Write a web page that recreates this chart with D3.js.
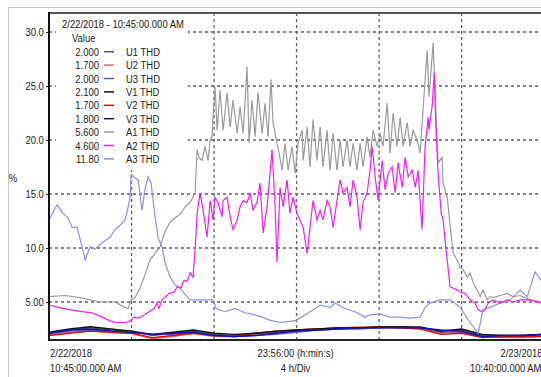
<!DOCTYPE html>
<html>
<head>
<meta charset="utf-8">
<script src="https://cdn.jsdelivr.net/npm/d3@7"></script>
<style>
  body { margin: 0; background: #fff; }
  svg { display: block; font-family: 'Liberation Sans', Arial, sans-serif; }
</style>
</head>
<body>
<div id="chart"></div>
<script>
// hours since 2/22/2018 10:45:00, value in %
const a1Thd = [
  [0, 5.5], [0.78, 5.6], [1.5, 5.4], [2.47, 5.0], [3.2, 5.0], [3.68, 4.5], [3.83, 4.4], [3.98, 5.2],
  [4.17, 5.4], [4.41, 6.3], [4.65, 7.5], [4.9, 8.9], [5.14, 9.5], [5.38, 10.1], [5.62, 11.5], [5.87, 12.4],
  [6.11, 12.8], [6.35, 13.1], [6.59, 13.8], [6.84, 14.2], [7.08, 15.1], [7.18, 19.1], [7.27, 18.4], [7.42, 18.1],
  [7.56, 19.4], [7.71, 18.1], [7.81, 20.0], [7.9, 20.3], [7.95, 22.1], [8.05, 24.9], [8.15, 20.9], [8.29, 24.6],
  [8.44, 20.9], [8.63, 24.4], [8.78, 21.2], [8.92, 23.7], [9.12, 20.6], [9.26, 23.1], [9.41, 20.6], [9.6, 26.8],
  [9.7, 19.7], [9.84, 23.7], [9.99, 20.3], [10.13, 24.4], [10.33, 20.6], [10.47, 23.4], [10.62, 20.3], [10.76, 25.6],
  [10.86, 21.6], [11.05, 19.7], [11.15, 18.8], [11.3, 17.2], [11.44, 19.7], [11.59, 17.2], [11.78, 19.4], [11.93, 16.9],
  [12.07, 19.7], [12.27, 20.9], [12.32, 18.1], [12.51, 21.2], [12.65, 17.5], [12.8, 21.9], [12.99, 18.1], [13.14, 21.2],
  [13.28, 17.5], [13.48, 20.9], [13.62, 17.2], [13.77, 20.6], [13.96, 17.2], [14.11, 20.0], [14.25, 17.5], [14.45, 20.0],
  [14.59, 17.5], [14.74, 19.7], [14.93, 17.2], [15.08, 19.7], [15.22, 17.5], [15.42, 20.3], [15.56, 18.4], [15.71, 20.9],
  [15.9, 19.4], [16.05, 20.6], [16.19, 19.4], [16.39, 23.4], [16.53, 18.8], [16.68, 22.5], [16.87, 19.4], [17.02, 22.1],
  [17.16, 19.4], [17.36, 21.6], [17.5, 19.4], [17.65, 20.9], [17.84, 20.0], [17.99, 18.8], [18.13, 22.8], [18.33, 28.3],
  [18.42, 24.0], [18.62, 29.0], [18.72, 24.0], [18.86, 17.9], [19.05, 18.4], [19.1, 16.0], [19.3, 14.7], [19.44, 12.1],
  [19.59, 9.5], [19.78, 8.9], [19.93, 8.2], [20.07, 8.0], [20.27, 7.3], [20.41, 7.7], [20.56, 6.8], [20.75, 6.1],
  [20.9, 5.5], [21.04, 6.1], [21.24, 5.2], [21.38, 5.5], [21.53, 5.4], [21.87, 5.6], [22.21, 5.8], [22.5, 5.5],
  [22.84, 5.6], [23.32, 5.2], [23.85, 5.0]
];

const a2Thd = [
  [0, 4.7], [0.48, 4.5], [0.97, 4.3], [1.6, 4.1], [2.08, 4.0], [2.57, 3.6], [2.91, 3.3], [3.25, 3.1],
  [3.73, 3.1], [3.98, 3.3], [4.12, 3.6], [4.36, 3.5], [4.61, 3.8], [4.85, 4.1], [5.09, 4.4], [5.24, 4.9],
  [5.33, 4.4], [5.48, 5.2], [5.67, 5.5], [5.82, 5.8], [6.06, 5.9], [6.21, 6.4], [6.4, 6.3], [6.55, 7.0],
  [6.69, 6.9], [6.84, 7.7], [6.98, 7.3], [7.08, 9.8], [7.18, 13.2], [7.32, 15.1], [7.47, 13.5], [7.66, 11.0],
  [7.81, 14.4], [7.95, 12.6], [8.05, 14.7], [8.19, 14.2], [8.39, 12.9], [8.44, 14.4], [8.63, 14.7], [8.78, 12.9],
  [8.92, 11.7], [9.12, 12.6], [9.26, 13.8], [9.41, 14.4], [9.6, 14.2], [9.75, 15.1], [9.89, 13.5], [10.08, 14.2],
  [10.23, 16.0], [10.38, 11.4], [10.57, 13.8], [10.81, 19.1], [10.96, 13.8], [11.05, 8.7], [11.2, 15.6], [11.35, 13.8],
  [11.54, 16.3], [11.68, 13.2], [11.83, 14.7], [12.02, 13.2], [12.17, 12.6], [12.32, 11.9], [12.51, 9.5], [12.65, 11.9],
  [12.8, 14.4], [12.99, 12.6], [13.14, 13.5], [13.28, 12.6], [13.48, 14.4], [13.62, 13.8], [13.77, 11.9], [13.96, 14.4],
  [14.11, 16.3], [14.25, 15.1], [14.45, 15.6], [14.59, 13.8], [14.74, 16.3], [14.93, 14.7], [15.08, 11.7], [15.22, 14.2],
  [15.42, 15.1], [15.56, 17.2], [15.66, 19.4], [15.81, 16.6], [15.95, 14.4], [16.15, 18.1], [16.29, 15.4], [16.44, 16.9],
  [16.63, 17.5], [16.78, 15.1], [16.92, 17.9], [17.12, 15.6], [17.26, 18.4], [17.41, 16.6], [17.6, 17.2], [17.75, 15.6],
  [17.89, 17.2], [18.08, 11.7], [18.23, 19.4], [18.38, 22.1], [18.42, 20.9], [18.57, 23.1], [18.67, 26.2], [18.76, 20.9],
  [18.86, 16.9], [19.01, 13.2], [19.1, 12.6], [19.2, 10.7], [19.3, 8.9], [19.44, 6.4], [19.59, 6.3], [19.78, 6.1],
  [19.93, 5.9], [20.17, 5.8], [20.41, 5.2], [20.65, 4.9], [20.8, 4.3], [20.99, 4.1], [21.14, 4.3], [21.29, 4.9],
  [21.53, 5.2], [21.87, 4.9], [22.21, 5.2], [22.5, 5.0], [22.84, 5.2], [23.32, 5.2], [23.85, 4.9]
];

const a3Thd = [
  [0, 12.6], [0.39, 14.0], [0.68, 13.2], [0.92, 12.8], [1.12, 11.9], [1.36, 11.9], [1.6, 10.1], [1.75, 8.9],
  [1.99, 10.1], [2.23, 9.9], [2.47, 10.3], [2.72, 10.7], [2.96, 11.0], [3.2, 11.7], [3.44, 12.1], [3.68, 12.6],
  [3.78, 13.3], [3.93, 14.7], [3.98, 16.8], [4.17, 16.5], [4.32, 16.3], [4.51, 13.5], [4.65, 15.4], [4.8, 16.6],
  [4.95, 16.0], [5.14, 12.9], [5.28, 11.0], [5.48, 10.1], [5.62, 8.7], [5.87, 7.3], [6.11, 6.6], [6.35, 6.3],
  [6.59, 5.7], [6.84, 5.2], [7.32, 5.2], [7.95, 5.2], [8.1, 4.4], [8.53, 4.1], [9.02, 4.4], [9.5, 4.0],
  [9.99, 3.8], [10.33, 3.6], [10.72, 3.3], [11.2, 3.1], [11.68, 3.2], [11.98, 3.3], [12.41, 3.8], [12.9, 4.4],
  [13.14, 4.7], [13.62, 4.5], [13.87, 4.9], [14.35, 4.4], [14.84, 4.1], [15.32, 3.6], [15.56, 3.8], [16.05, 3.9],
  [16.53, 3.6], [17.02, 3.6], [17.5, 3.5], [17.99, 3.6], [18.23, 4.5], [18.47, 4.9], [18.96, 5.2], [19.44, 5.2],
  [19.93, 4.5], [20.41, 3.1], [20.8, 2.1], [21.04, 4.3], [21.38, 4.5], [21.87, 4.9], [22.35, 5.2], [22.84, 6.1],
  [23.18, 5.5], [23.56, 7.8], [23.85, 7.0]
];

// voltage series, one reading per hour
const uvHours = [0, 1, 2, 3, 4, 5, 6, 7, 8, 9, 10, 11, 12, 13, 14, 15, 16, 17, 18, 19, 20, 21, 22, 23, 23.85];
const u1Thd = [2.1, 2.4, 2.6, 2.4, 2.3, 1.9, 2.1, 2.3, 2.0, 1.9, 2.1, 2.2, 2.3, 2.4, 2.5, 2.6, 2.6, 2.7, 2.6, 2.2, 2.4, 1.9, 1.9, 1.9, 2.0];
const u2Thd = [2.0, 2.2, 2.3, 2.2, 2.1, 1.6, 1.8, 2.1, 1.8, 1.8, 2.0, 2.2, 2.4, 2.5, 2.6, 2.7, 2.7, 2.7, 2.6, 2.1, 2.2, 1.8, 1.7, 1.7, 1.8];
const u3Thd = [2.1, 2.3, 2.4, 2.3, 2.2, 2.0, 2.0, 2.2, 1.9, 1.8, 1.9, 2.0, 2.2, 2.4, 2.5, 2.5, 2.6, 2.6, 2.6, 2.3, 2.2, 1.8, 1.8, 1.9, 1.9];
const v1Thd = [2.2, 2.5, 2.7, 2.5, 2.3, 2.0, 2.2, 2.4, 2.1, 2.0, 2.1, 2.3, 2.4, 2.5, 2.6, 2.6, 2.7, 2.7, 2.7, 2.3, 2.5, 2.0, 1.9, 1.9, 2.0];
const v2Thd = [1.9, 2.1, 2.3, 2.2, 2.1, 1.7, 1.9, 2.1, 1.9, 1.8, 2.1, 2.3, 2.4, 2.5, 2.6, 2.6, 2.7, 2.6, 2.5, 2.0, 2.1, 1.7, 1.8, 1.8, 1.8];
const v3Thd = [2.1, 2.4, 2.5, 2.3, 2.2, 2.0, 2.1, 2.2, 1.9, 1.8, 1.9, 2.1, 2.3, 2.4, 2.5, 2.6, 2.6, 2.6, 2.6, 2.4, 2.3, 1.8, 1.9, 1.9, 2.0];

const legendNames = ['U1 THD', 'U2 THD', 'U3 THD', 'V1 THD', 'V2 THD', 'V3 THD', 'A1 THD', 'A2 THD', 'A3 THD'];
const legendValues = ['2.000', '1.700', '2.000', '2.100', '1.700', '1.800', '5.600', '4.600', '11.80'];
const yTicks = [5, 10, 15, 20, 25, 30];
const xGridHours = [4, 8, 12, 16, 20];

const colors = {
  'U1 THD': '#555555', 'U2 THD': '#e06a6a', 'U3 THD': '#5a5ae0',
  'V1 THD': '#111111', 'V2 THD': '#d01010', 'V3 THD': '#1010b0',
  'A1 THD': '#9a9a9a', 'A2 THD': '#f020f0', 'A3 THD': '#9090ee'
};

const W = 541, H = 377;
const plotLeft = 49, plotTop = 13, plotBottom = 340, plotRight = 542.5;
const squeeze = 0.86; // the original uses a condensed face

const svg = d3.select('#chart').append('svg').attr('width', W).attr('height', H);

// text helper: condensed look by horizontal scaling
function label(parent, tx, ty, str, anchor) {
  return parent.append('text')
    .attr('transform', `translate(${tx},${ty}) scale(${squeeze},1)`)
    .attr('text-anchor', anchor || 'start')
    .style('font-size', '11px').attr('fill', '#222')
    .text(str);
}

// outer frame
svg.append('rect').attr('x', 8.5).attr('y', 7.5).attr('width', 600).attr('height', 420)
  .attr('fill', 'none').attr('stroke', '#c8c8c8');

const x = d3.scaleLinear().domain([0, 23.92]).range([plotLeft, plotRight]);
const y = d3.scaleLinear().domain([1.48, 31.76]).range([plotBottom, plotTop]);

// grid
svg.append('g').selectAll('line').data(yTicks).join('line')
  .attr('x1', plotLeft).attr('x2', W + 10)
  .attr('y1', d => y(d)).attr('y2', d => y(d))
  .attr('stroke', '#606060').attr('stroke-width', 1.3).attr('stroke-dasharray', '3,3');

svg.append('g').selectAll('line').data(xGridHours).join('line')
  .attr('x1', d => x(d)).attr('x2', d => x(d))
  .attr('y1', plotTop).attr('y2', plotBottom)
  .attr('stroke', '#606060').attr('stroke-width', 1.3).attr('stroke-dasharray', '3,3');

// y axis
svg.append('g')
  .attr('transform', `translate(${plotLeft},0)`)
  .call(d3.axisLeft(y).tickValues(yTicks).tickSize(3).tickPadding(3)
    .tickFormat(d => d === 5 ? '5.00' : d3.format('.1f')(d)))
  .call(g => g.select('.domain').remove())
  .call(g => g.selectAll('.tick line').attr('stroke', '#333'))
  .call(g => g.selectAll('.tick text').attr('fill', '#222').style('font-size', '11px')
    .style('font-family', "'Liberation Sans', Arial, sans-serif")
    .attr('transform', `scale(${squeeze},1)`));

label(svg, 13, 182, '%', 'middle');

// series
const line = d3.line().x(d => x(d[0])).y(d => y(d[1]));
const uvLine = vals => vals.map((v, i) => [uvHours[i], v]);

const series = [
  ['U2 THD', uvLine(u2Thd)], ['U1 THD', uvLine(u1Thd)], ['U3 THD', uvLine(u3Thd)],
  ['V2 THD', uvLine(v2Thd)], ['V1 THD', uvLine(v1Thd)], ['V3 THD', uvLine(v3Thd)],
  ['A3 THD', a3Thd], ['A1 THD', a1Thd], ['A2 THD', a2Thd]
];

svg.append('g').selectAll('path').data(series).join('path')
  .attr('fill', 'none')
  .attr('stroke', d => colors[d[0]])
  .attr('stroke-width', d => d[0][0] === 'A' ? 1.2 : 1.4)
  .attr('d', d => line(d[1]));

// frame lines
svg.append('line').attr('x1', plotLeft).attr('x2', W).attr('y1', plotTop).attr('y2', plotTop)
  .attr('stroke', '#555').attr('stroke-width', 2);
svg.append('line').attr('x1', plotLeft).attr('x2', W).attr('y1', plotBottom).attr('y2', plotBottom)
  .attr('stroke', '#222').attr('stroke-width', 2);
svg.append('line').attr('x1', plotLeft).attr('x2', plotLeft).attr('y1', plotTop - 1).attr('y2', plotBottom + 1)
  .attr('stroke', '#111').attr('stroke-width', 2);

// legend box (covers grid)
const lg = svg.append('g');
lg.append('rect').attr('x', 56).attr('y', 14).attr('width', 132).attr('height', 156).attr('fill', '#fff');
label(lg, 62, 28, '2/22/2018 - 10:45:00.000 AM');
label(lg, 72, 42, 'Value');

legendNames.forEach((name, i) => {
  const cy = 51.7 + 13.4 * i;
  label(lg, 99, cy + 4, legendValues[i], 'end');
  lg.append('line').attr('x1', 104).attr('x2', 114).attr('y1', cy).attr('y2', cy)
    .attr('stroke', colors[name]).attr('stroke-width', 1.5);
  label(lg, 126, cy + 4, name);
});

// x labels
label(svg, x(0) + 1, 357, '2/22/2018');
label(svg, x(0) + 1, 372, '10:45:00.000 AM');
label(svg, x(12) - 1, 357, '23:56:00 (h:min:s)', 'middle');
label(svg, x(12) - 1, 372, '4 h/Div', 'middle');
label(svg, x(23.92), 357, '2/23/2018', 'end');
label(svg, x(23.92) - 1, 372, '10:40:00.000 AM', 'end');
</script>
</body>
</html>
